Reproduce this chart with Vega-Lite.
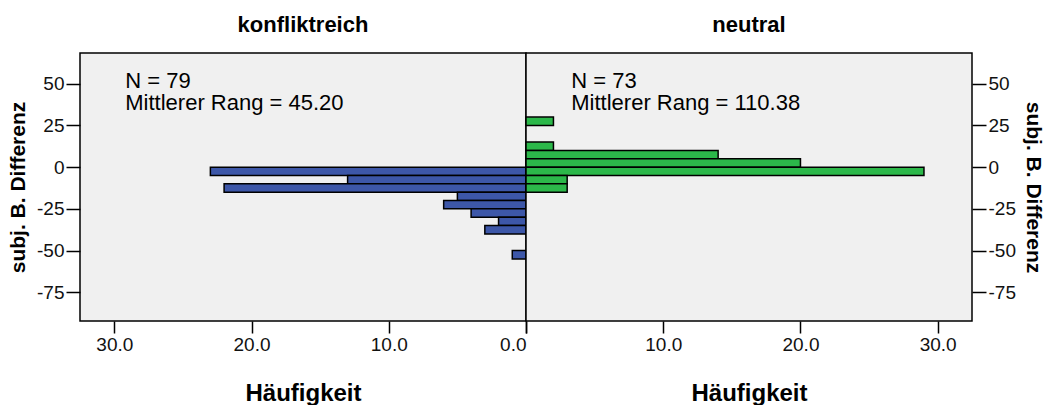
{
  "$schema": "https://vega.github.io/schema/vega-lite/v6.json",
  "padding": {"left": 6, "top": 13, "right": 0, "bottom": 0},
  "background": "white",
  "datasets": {
    "konflikt": [
      {"lo": -5, "hi": 0, "count": 23},
      {"lo": -10, "hi": -5, "count": 13},
      {"lo": -15, "hi": -10, "count": 22},
      {"lo": -20, "hi": -15, "count": 5},
      {"lo": -25, "hi": -20, "count": 6},
      {"lo": -30, "hi": -25, "count": 4},
      {"lo": -35, "hi": -30, "count": 2},
      {"lo": -40, "hi": -35, "count": 3},
      {"lo": -55, "hi": -50, "count": 1}
    ],
    "neutral": [
      {"lo": 25, "hi": 30, "count": 2},
      {"lo": 10, "hi": 15, "count": 2},
      {"lo": 5, "hi": 10, "count": 14},
      {"lo": 0, "hi": 5, "count": 20},
      {"lo": -5, "hi": 0, "count": 29},
      {"lo": -10, "hi": -5, "count": 3},
      {"lo": -15, "hi": -10, "count": 3}
    ],
    "notesK": [
      {"x": 29.2, "y": 47.5, "t": "N = 79"},
      {"x": 29.2, "y": 34.3, "t": "Mittlerer Rang = 45.20"}
    ],
    "notesN": [
      {"x": 3.3, "y": 47.5, "t": "N = 73"},
      {"x": 3.3, "y": 34.3, "t": "Mittlerer Rang = 110.38"}
    ]
  },
  "spacing": 0,
  "bounds": "flush",
  "config": {
    "font": "Liberation Sans",
    "view": {"fill": "#f0f0f0", "stroke": "black", "strokeWidth": 1.5},
    "axis": {
      "domain": false,
      "grid": false,
      "tickColor": "black",
      "tickWidth": 1.5,
      "labelColor": "#111",
      "labelFont": "Liberation Sans",
      "labelFontSize": 19,
      "titleFont": "Liberation Sans",
      "titleFontWeight": "bold",
      "titleColor": "black"
    },
    "title": {"font": "Liberation Sans", "fontSize": 22, "fontWeight": "bold", "color": "black", "offset": 16}
  },
  "hconcat": [
    {
      "width": 446,
      "height": 268,
      "title": "konfliktreich",
      "layer": [
        {
          "data": {"name": "konflikt"},
          "mark": {"type": "bar", "fill": "#3d57a8", "stroke": "black", "strokeWidth": 1.5},
          "encoding": {
            "x": {"field": "count", "type": "quantitative",
              "scale": {"domain": [0, 32.5], "reverse": true, "nice": false, "zero": false},
              "axis": {"values": [0, 10, 20, 30], "format": ".1f", "title": "Häufigkeit", "titleFontSize": 24, "titlePadding": 27, "tickSize": 12, "labelPadding": 2.5}},
            "x2": {"datum": 0},
            "y": {"field": "hi", "type": "quantitative",
              "scale": {"domain": [-92.2, 68.4], "nice": false, "zero": false},
              "axis": {"orient": "left", "values": [-75, -50, -25, 0, 25, 50], "labelExpr": "toString(datum.value)", "title": "subj. B. Differenz", "titleFontSize": 21, "titlePadding": 8, "tickSize": 14, "labelPadding": 2, "minExtent": 44, "maxExtent": 44}},
            "y2": {"field": "lo"}
          }
        },
        {
          "data": {"name": "notesK"},
          "mark": {"type": "text", "align": "left", "baseline": "alphabetic", "fontSize": 22, "color": "black", "font": "Liberation Sans"},
          "encoding": {
            "x": {"field": "x", "type": "quantitative"},
            "y": {"field": "y", "type": "quantitative"},
            "text": {"field": "t"}
          }
        }
      ]
    },
    {
      "width": 446,
      "height": 268,
      "title": "neutral",
      "layer": [
        {
          "data": {"name": "neutral"},
          "mark": {"type": "bar", "fill": "#2cb84a", "stroke": "black", "strokeWidth": 1.5},
          "encoding": {
            "x": {"field": "count", "type": "quantitative",
              "scale": {"domain": [0, 32.5], "nice": false, "zero": false},
              "axis": {"values": [0, 10, 20, 30], "format": ".1f", "title": "Häufigkeit", "titleFontSize": 24, "titlePadding": 27, "tickSize": 12, "labelPadding": 2.5, "labelExpr": "datum.value === 0 ? '' : datum.label"}},
            "x2": {"datum": 0},
            "y": {"field": "hi", "type": "quantitative",
              "scale": {"domain": [-92.2, 68.4], "nice": false, "zero": false},
              "axis": {"orient": "right", "values": [-75, -50, -25, 0, 25, 50], "labelExpr": "toString(datum.value)", "title": "subj. B. Differenz", "titleFontSize": 21, "titlePadding": 6, "tickSize": 14, "labelPadding": 2, "minExtent": 44, "maxExtent": 44}},
            "y2": {"field": "lo"}
          }
        },
        {
          "data": {"name": "notesN"},
          "mark": {"type": "text", "align": "left", "baseline": "alphabetic", "fontSize": 22, "color": "black", "font": "Liberation Sans"},
          "encoding": {
            "x": {"field": "x", "type": "quantitative"},
            "y": {"field": "y", "type": "quantitative"},
            "text": {"field": "t"}
          }
        }
      ]
    }
  ]
}
